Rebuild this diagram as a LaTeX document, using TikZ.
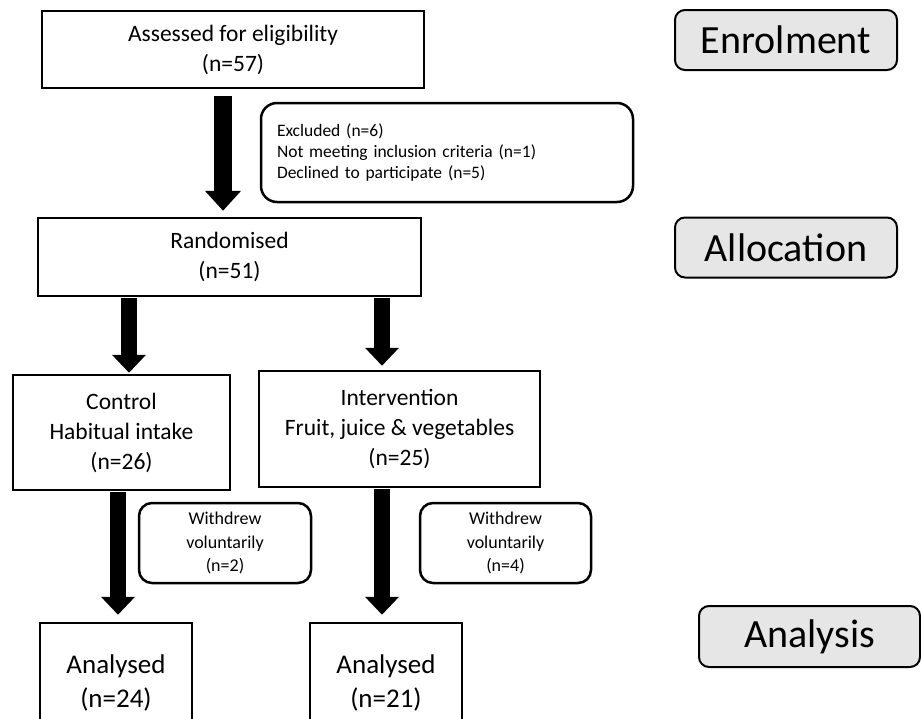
\documentclass[tikz,border=0pt]{standalone}
\usepackage{fontspec}
\setmainfont{Carlito}
\usetikzlibrary{arrows.meta}
\definecolor{labgray}{RGB}{230,230,230}
\begin{document}
\begin{tikzpicture}[x=1pt,y=-1pt,
  box/.style={draw, line width=2.5pt, align=center, inner sep=0pt},
  mainfont/.style={font=\fontsize{23.5}{30}\selectfont},
  roundbox/.style={draw, line width=2.5pt, rounded corners=13pt, align=center, inner sep=0pt},
  lab/.style={draw, line width=2pt, rounded corners=10pt, fill=labgray, inner sep=0pt,
    minimum width=222pt, minimum height=60pt, font=\fontsize{40}{48}\selectfont},
  bigarrow/.style={line width=18pt, -{Triangle[width=35pt,length=20pt]}},
  smallarrow/.style={line width=16pt, -{Triangle[width=33pt,length=18pt]}}
]
\useasboundingbox (0,0) rectangle (921,718);
\clip (0,0) rectangle (921,718);

% main boxes
\node[box, mainfont, minimum width=382pt, minimum height=77pt] (top) at (233,49.5) {Assessed for eligibility\\(n=57)};
\node[box, mainfont, minimum width=383pt, minimum height=78pt] (rand) at (229.5,257) {Randomised\\(n=51)};
\node[box, mainfont, minimum width=217pt, minimum height=115pt] (ctrl) at (121.5,432.5) {Control\\Habitual intake\\(n=26)};
\node[box, mainfont, minimum width=281pt, minimum height=116pt] (intv) at (399.5,429) {Intervention\\Fruit, juice \& vegetables\\(n=25)};
\node[box, font=\fontsize{27}{34}\selectfont, minimum width=152pt, minimum height=120pt] (an1) at (116,683) {Analysed\\(n=24)};
\node[box, font=\fontsize{27}{34}\selectfont, minimum width=152pt, minimum height=120pt] (an2) at (386,683) {Analysed\\(n=21)};

% side boxes
\node[roundbox, rounded corners=16pt, align=left, text width=340pt, inner xsep=16pt,
  minimum height=99pt, font=\fontsize{17.5}{21}\selectfont] (excl) at (447,152.5)
  {Excluded (n=6)\\Not meeting inclusion criteria (n=1)\\Declined to participate (n=5)};
\node[roundbox, minimum width=172pt, minimum height=80pt, font=\fontsize{18}{23.5}\selectfont] (wd1) at (225,543) {Withdrew\\voluntarily\\(n=2)};
\node[roundbox, minimum width=171pt, minimum height=80pt, font=\fontsize{18}{23.5}\selectfont] (wd2) at (505.5,543) {Withdrew\\voluntarily\\(n=4)};

% stage labels
\node[lab] (enrol) at (786,40) {Enrolment};
\node[lab] (alloc) at (786,247.5) {Allocation};
\node[lab, minimum width=221pt, minimum height=61pt] (anal) at (809.5,636.5) {Analysis};

% arrows
\draw[bigarrow, shorten <=7pt, shorten >=6pt] ([xshift=-10pt]top.south) -- ([xshift=-10pt]top.south |- rand.north);
\draw[smallarrow, shorten <=1pt, shorten >=1pt] ([xshift=-100.5pt]rand.south) -- ([xshift=-100.5pt]rand.south |- ctrl.north);
\draw[smallarrow, shorten <=1pt, shorten >=4pt] ([xshift=152.5pt]rand.south) -- ([xshift=152.5pt]rand.south |- intv.north);
\draw[smallarrow, shorten <=1pt, shorten >=7pt] ([xshift=-3.5pt]ctrl.south) -- ([xshift=-3.5pt]ctrl.south |- an1.north);
\draw[smallarrow, shorten <=1pt, shorten >=7pt] ([xshift=-17.5pt]intv.south) -- ([xshift=-17.5pt]intv.south |- an2.north);
\end{tikzpicture}
\end{document}
